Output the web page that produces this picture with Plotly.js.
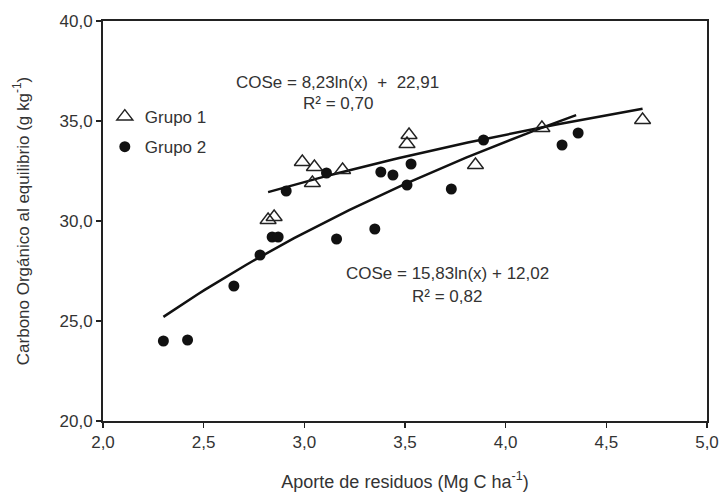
<!DOCTYPE html>
<html>
<head>
<meta charset="utf-8">
<script src="https://cdn.plot.ly/plotly-3.0.1.min.js"></script>
<style>html,body{margin:0;padding:0;background:#fff;}#chart{width:720px;height:495px;}</style>
</head>
<body>
<div id="chart"></div>
<script>
// Grupo 1 (triangles)
const g1X = [2.82, 2.85, 2.99, 3.04, 3.05, 3.19, 3.51, 3.52, 3.85, 4.18, 4.68];
const g1Y = [30.05, 30.2, 32.95, 31.9, 32.7, 32.55, 33.85, 34.3, 32.8, 34.65, 35.05];
// Grupo 2 (filled circles)
const g2X = [2.30, 2.42, 2.65, 2.78, 2.84, 2.87, 2.91, 3.11, 3.16, 3.35, 3.38, 3.44, 3.51, 3.53, 3.73, 3.89, 4.28, 4.36];
const g2Y = [24.0, 24.05, 26.75, 28.3, 29.2, 29.2, 31.5, 32.4, 29.1, 29.6, 32.45, 32.3, 31.8, 32.85, 31.6, 34.05, 33.8, 34.4];
// Fitted logarithmic models shown on the chart
const fit1 = {a: 8.23, b: 22.91, xmin: 2.82, xmax: 4.68};
const fit2 = {a: 15.83, b: 12.02, xmin: 2.30, xmax: 4.35};
const xTicks = [2.0, 2.5, 3.0, 3.5, 4.0, 4.5, 5.0];
const yTicks = [20, 25, 30, 35, 40];

function curve(f) {
  const xs = [], ys = [];
  const n = 60;
  for (let i = 0; i <= n; i++) {
    const x = f.xmin + (f.xmax - f.xmin) * i / n;
    xs.push(x); ys.push(f.a * Math.log(x) + f.b);
  }
  return {xs, ys};
}
const c1 = curve(fit1), c2 = curve(fit2);

const txt = '#333333';
const traces = [
  {x: c1.xs, y: c1.ys, mode: 'lines', line: {color: '#111', width: 2.5}, showlegend: false, hoverinfo: 'skip'},
  {x: c2.xs, y: c2.ys, mode: 'lines', line: {color: '#111', width: 2.5}, showlegend: false, hoverinfo: 'skip'},
  {x: g1X, y: g1Y, mode: 'markers', name: 'Grupo 1', legendgroup: 'a', legendrank: 1,
   marker: {symbol: 'triangle-up-open', size: 14, color: '#222', line: {width: 1.4, color: '#222'}}},
  {x: g2X, y: g2Y, mode: 'markers', name: 'Grupo 2', legendgroup: 'b', legendrank: 2,
   marker: {symbol: 'circle', size: 11, color: '#111', line: {width: 0}}}
];

const layout = {
  width: 720, height: 495,
  margin: {l: 103, r: 13, t: 21, b: 74},
  paper_bgcolor: '#fff', plot_bgcolor: '#fff',
  separators: ',.',
  font: {family: '"Liberation Sans", Arial, sans-serif', size: 17, color: txt},
  showlegend: true,
  legend: {x: 0.003, y: 0.805, xanchor: 'left', yanchor: 'top', traceorder: 'grouped',
           tracegroupgap: 5, bgcolor: 'rgba(0,0,0,0)', font: {size: 17, color: txt}},
  xaxis: {range: [2, 5], tickvals: xTicks, tickformat: '.1f', ticks: 'outside', ticklen: 5,
          tickcolor: '#222', tickwidth: 1.5, showline: true, linecolor: '#222', linewidth: 2, mirror: true,
          showgrid: false, zeroline: false, tickfont: {size: 17, color: txt},
          title: {text: 'Aporte de residuos (Mg C ha<sup>-1</sup>)', standoff: 24, font: {size: 18, color: txt}}},
  yaxis: {range: [20, 40], tickvals: yTicks, tickformat: '.1f', ticks: 'outside', ticklen: 5,
          tickcolor: '#222', tickwidth: 1.5, showline: true, linecolor: '#222', linewidth: 2, mirror: true,
          showgrid: false, zeroline: false, tickfont: {size: 17, color: txt},
          title: {text: 'Carbono Orgánico al equilibrio (g kg<sup>-1</sup>)', standoff: 26, font: {size: 17, color: txt}}},
  annotations: [
    {xref: 'x', yref: 'y', x: 3.165, y: 36.95, text: 'COSe = 8,23ln(x)  +  22,91', showarrow: false, font: {size: 17, color: txt}},
    {xref: 'x', yref: 'y', x: 3.165, y: 35.9, text: 'R² = 0,70', showarrow: false, font: {size: 17, color: txt}},
    {xref: 'x', yref: 'y', x: 3.71, y: 27.4, text: 'COSe = 15,83ln(x) + 12,02', showarrow: false, font: {size: 17, color: txt}},
    {xref: 'x', yref: 'y', x: 3.71, y: 26.25, text: 'R² = 0,82', showarrow: false, font: {size: 17, color: txt}}
  ]
};

Plotly.newPlot('chart', traces, layout, {displayModeBar: false, staticPlot: true});
</script>
</body>
</html>
